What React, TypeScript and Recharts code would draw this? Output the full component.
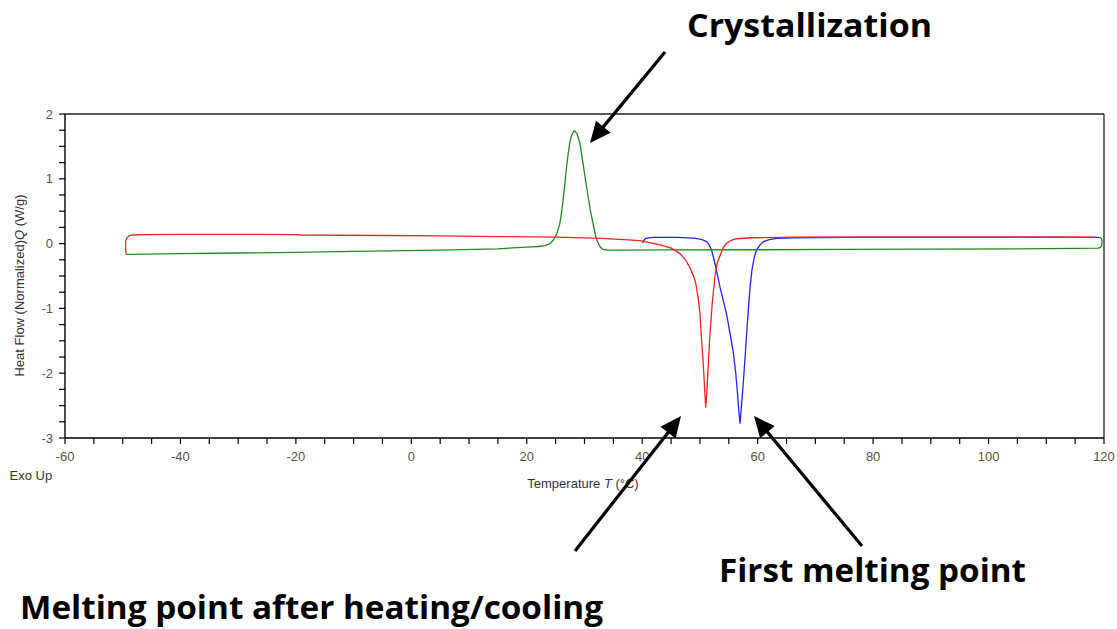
import { LineChart, Line, XAxis, YAxis, ReferenceLine } from 'recharts';

// first heating (blue), 40 -> 120 °C
const firstHeating = [
    { t: 40.1, q: 0.005 }, { t: 40.3, q: 0.05 }, { t: 40.6, q: 0.08 }, { t: 41.9, q: 0.097 },
    { t: 46, q: 0.095 }, { t: 49, q: 0.085 }, { t: 50, q: 0.07 }, { t: 50.7, q: 0.05 },
    { t: 51.2, q: 0.03 }, { t: 51.6, q: -0.02 }, { t: 52.0, q: -0.1 }, { t: 52.4, q: -0.23 },
    { t: 52.9, q: -0.43 }, { t: 53.5, q: -0.68 }, { t: 54.1, q: -0.9 }, { t: 54.6, q: -1.08 },
    { t: 55.2, q: -1.38 }, { t: 55.8, q: -1.69 }, { t: 56.2, q: -2.0 }, { t: 56.5, q: -2.31 },
    { t: 56.75, q: -2.6 }, { t: 56.95, q: -2.78 }, { t: 57.2, q: -2.5 }, { t: 57.5, q: -2.16 },
    { t: 57.8, q: -1.78 }, { t: 58.1, q: -1.38 }, { t: 58.4, q: -1.0 }, { t: 58.7, q: -0.66 },
    { t: 59.0, q: -0.41 }, { t: 59.4, q: -0.22 }, { t: 59.8, q: -0.1 }, { t: 60.4, q: -0.02 },
    { t: 61.0, q: 0.03 }, { t: 62, q: 0.06 }, { t: 63.3, q: 0.08 }, { t: 66.2, q: 0.09 },
    { t: 80, q: 0.1 }, { t: 100, q: 0.1 }, { t: 119.2, q: 0.097 },
];

// cooling (green), 120 -> -50 °C
const cooling = [
    { t: 119.2, q: 0.095 }, { t: 119.55, q: 0.08 }, { t: 119.65, q: 0.03 }, { t: 119.6, q: -0.03 },
    { t: 119.4, q: -0.06 }, { t: 119, q: -0.07 }, { t: 115, q: -0.075 }, { t: 105, q: -0.08 },
    { t: 90, q: -0.085 }, { t: 75, q: -0.09 }, { t: 60, q: -0.095 }, { t: 45, q: -0.098 },
    { t: 36, q: -0.1 }, { t: 34, q: -0.1 }, { t: 33.2, q: -0.09 }, { t: 32.7, q: -0.05 },
    { t: 32.3, q: 0.02 }, { t: 32.0, q: 0.09 }, { t: 31.5, q: 0.3 }, { t: 31.0, q: 0.52 },
    { t: 30.5, q: 0.8 }, { t: 30.1, q: 1.03 }, { t: 29.6, q: 1.32 }, { t: 29.2, q: 1.55 },
    { t: 28.7, q: 1.7 }, { t: 28.2, q: 1.74 }, { t: 27.8, q: 1.68 }, { t: 27.5, q: 1.58 },
    { t: 27.2, q: 1.4 }, { t: 26.9, q: 1.19 }, { t: 26.6, q: 0.93 }, { t: 26.3, q: 0.67 },
    { t: 26.0, q: 0.46 }, { t: 25.7, q: 0.3 }, { t: 25.2, q: 0.15 }, { t: 24.6, q: 0.055 },
    { t: 24.0, q: 0.0 }, { t: 23.2, q: -0.03 }, { t: 22, q: -0.045 }, { t: 20, q: -0.055 },
    { t: 15, q: -0.08 }, { t: 5, q: -0.1 }, { t: -10, q: -0.12 }, { t: -20, q: -0.135 },
    { t: -30, q: -0.145 }, { t: -40, q: -0.155 }, { t: -46, q: -0.162 }, { t: -49.4, q: -0.165 },
];

// second heating (red), -50 -> 120 °C
const secondHeating = [
    { t: -49.4, q: -0.165 }, { t: -49.5, q: -0.1 }, { t: -49.5, q: 0.03 }, { t: -49.3, q: 0.09 },
    { t: -48.9, q: 0.12 }, { t: -48.3, q: 0.133 }, { t: -46, q: 0.14 }, { t: -40, q: 0.142 },
    { t: -30, q: 0.143 }, { t: -20, q: 0.14 }, { t: -19.2, q: 0.133 }, { t: -5, q: 0.125 },
    { t: 5, q: 0.118 }, { t: 15, q: 0.108 }, { t: 25, q: 0.1 }, { t: 33, q: 0.08 },
    { t: 36, q: 0.066 }, { t: 39.6, q: 0.045 }, { t: 43.1, q: -0.02 }, { t: 45, q: -0.07 },
    { t: 46.5, q: -0.15 }, { t: 47.5, q: -0.25 }, { t: 48.2, q: -0.36 }, { t: 48.9, q: -0.5 },
    { t: 49.3, q: -0.62 }, { t: 49.7, q: -0.85 }, { t: 50, q: -1.08 }, { t: 50.3, q: -1.5 },
    { t: 50.6, q: -1.9 }, { t: 50.85, q: -2.3 }, { t: 51.0, q: -2.53 }, { t: 51.2, q: -2.3 },
    { t: 51.45, q: -1.85 }, { t: 51.75, q: -1.38 }, { t: 52.1, q: -0.95 }, { t: 52.6, q: -0.5 },
    { t: 53.0, q: -0.3 }, { t: 53.5, q: -0.18 }, { t: 54.0, q: -0.07 }, { t: 54.6, q: 0.005 },
    { t: 55.4, q: 0.05 }, { t: 56.4, q: 0.075 }, { t: 59, q: 0.09 }, { t: 67, q: 0.1 },
    { t: 90, q: 0.1 }, { t: 118.3, q: 0.098 },
];

const xTicks = [
    -60, -55, -50, -45, -40, -35, -30, -25, -20, -15, -10, -5, 0, 5, 10, 15, 20, 25, 30,
    35, 40, 45, 50, 55, 60, 65, 70, 75, 80, 85, 90, 95, 100, 105, 110, 115, 120,
];
const yTicks = [
    -3, -2.75, -2.5, -2.25, -2, -1.75, -1.5, -1.25, -1, -0.75, -0.5, -0.25, 0,
    0.25, 0.5, 0.75, 1, 1.25, 1.5, 1.75, 2,
];

const TICK_FONT = "'Liberation Sans', Arial, sans-serif";
const TICK_COLOR = '#5e5044';

const XTick = (props: any) => {
    const { x, y, payload } = props;
    if (payload.value % 20 !== 0) return <g />;
    return (
        <text x={x} y={y} dy={14.6} textAnchor="middle" fill={TICK_COLOR} fontSize={13} fontFamily={TICK_FONT}>
            {payload.value}
        </text>
    );
};

const YTick = (props: any) => {
    const { x, y, payload } = props;
    if (!Number.isInteger(payload.value)) return <g />;
    return (
        <text x={x} y={y} dy={4.6} textAnchor="end" fill={TICK_COLOR} fontSize={13} fontFamily={TICK_FONT}>
            {payload.value}
        </text>
    );
};

// simple filled arrow for the annotations
const Arrow = ({ x1, y1, x2, y2 }: { x1: number; y1: number; x2: number; y2: number }) => {
    const len = Math.hypot(x2 - x1, y2 - y1);
    const ux = (x2 - x1) / len;
    const uy = (y2 - y1) / len;
    const head = 21;
    const half = 9.5;
    const bx = x2 - ux * head;
    const by = y2 - uy * head;
    const pts = `${x2},${y2} ${bx - uy * half},${by + ux * half} ${bx + uy * half},${by - ux * half}`;
    return (
        <g>
            <line x1={x1} y1={y1} x2={bx + ux * 3} y2={by + uy * 3} stroke="#000" strokeWidth={3.2} />
            <polygon points={pts} fill="#000" />
        </g>
    );
};

const BIG_FONT = "'Open Sans', 'Noto Sans', sans-serif";

export default function App() {
    return (
        <div style={{ position: 'absolute', left: 0, top: 0, width: 1117, height: 629, background: '#fff' }}>
            <LineChart width={1117} height={629} margin={{ top: 114, right: 13, bottom: 131, left: 15 }}>
                <XAxis
                    dataKey="t"
                    type="number"
                    domain={[-60, 120]}
                    ticks={xTicks}
                    interval={0}
                    allowDataOverflow
                    height={60}
                    tickSize={6}
                    tickMargin={2}
                    tick={XTick}
                    axisLine={{ stroke: '#000', strokeWidth: 1.4 }}
                    tickLine={{ stroke: '#000', strokeWidth: 1.2 }}
                />
                <YAxis
                    dataKey="q"
                    type="number"
                    domain={[-3, 2]}
                    ticks={yTicks}
                    interval={0}
                    allowDataOverflow
                    width={50}
                    tickSize={6}
                    tickMargin={6}
                    tick={YTick}
                    axisLine={{ stroke: '#000', strokeWidth: 1.4 }}
                    tickLine={{ stroke: '#000', strokeWidth: 1.2 }}
                />
                <ReferenceLine y={2} stroke="#222" strokeWidth={1.3} />
                <ReferenceLine x={120} stroke="#222" strokeWidth={1.3} />
                <Line data={firstHeating} dataKey="q" type="linear" stroke="#2323f5" strokeWidth={1.3} dot={false} isAnimationActive={false} />
                <Line data={cooling} dataKey="q" type="linear" stroke="#1f8a1f" strokeWidth={1.3} dot={false} isAnimationActive={false} />
                <Line data={secondHeating} dataKey="q" type="linear" stroke="#f52020" strokeWidth={1.3} dot={false} isAnimationActive={false} />
            </LineChart>

            <svg width={1117} height={629} style={{ position: 'absolute', left: 0, top: 0, pointerEvents: 'none' }}>
                <text
                    x={24.3}
                    y={285.5}
                    transform="rotate(-90 24.3 285.5)"
                    textAnchor="middle"
                    fontSize={13}
                    fontFamily={TICK_FONT}
                    fill="#333"
                >
                    Heat Flow (Normalized)<tspan fontStyle="italic">Q</tspan> (W/g)
                </text>
                <text x={583} y={487.6} textAnchor="middle" fontSize={13} fontFamily={TICK_FONT} fill="#333">
                    Temperature <tspan fontStyle="italic">T</tspan> (°C)
                </text>
                <text x={9.5} y={479.6} fontSize={13} fontFamily={TICK_FONT} fill="#333">
                    Exo Up
                </text>

                <text x={687} y={37} fontSize={33} fontWeight={700} fontFamily={BIG_FONT} fill="#000" textLength={245} lengthAdjust="spacingAndGlyphs">
                    Crystallization
                </text>
                <text x={719} y={582} fontSize={33} fontWeight={700} fontFamily={BIG_FONT} fill="#000" textLength={307} lengthAdjust="spacingAndGlyphs">
                    First melting point
                </text>
                <text x={20} y={619} fontSize={33} fontWeight={700} fontFamily={BIG_FONT} fill="#000" textLength={583} lengthAdjust="spacingAndGlyphs">
                    Melting point after heating/cooling
                </text>

                <Arrow x1={665} y1={52} x2={590} y2={143} />
                <Arrow x1={575} y1={551} x2={681} y2={416} />
                <Arrow x1={862} y1={546} x2={754} y2={416} />
            </svg>
        </div>
    );
}
